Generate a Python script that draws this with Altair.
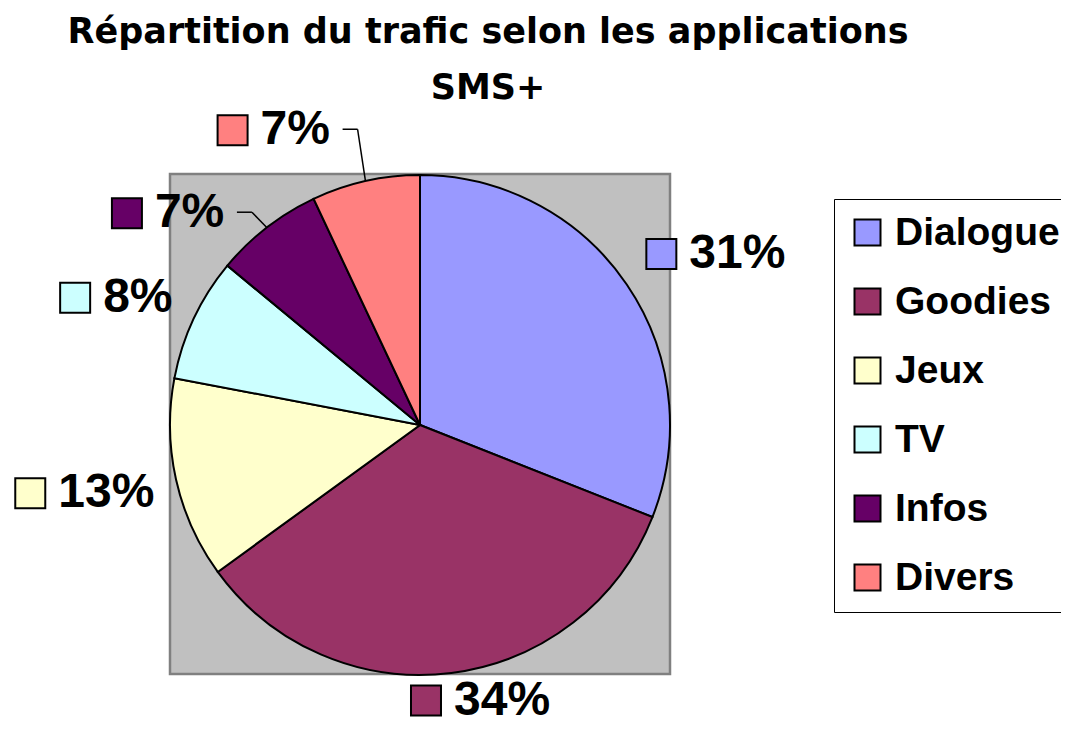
import altair as alt
import pandas as pd

# ---- data ----
categories = ["Dialogue", "Goodies", "Jeux", "TV", "Infos", "Divers"]
shares = [31, 34, 13, 8, 7, 7]
colors = ["#9999FF", "#993366", "#FFFFCC", "#CCFFFF", "#660066", "#FF8080"]
title_lines = ["Répartition du trafic selon les applications", "SMS+"]

# label placement around the pie (Excel "best fit"): angular shift (deg) and radius (px)
label_shift = [1.2, 1.4, 2.1, -3.7, -14.2, -16.7]
label_radius = [314, 277, 374, 347, 344, 338]

W, H = 1053, 721
CX, CY, R = 412, 417, 250

df = pd.DataFrame({
    "cat": categories,
    "share": shares,
    "idx": list(range(len(categories))),
    "shift": label_shift,
    "lr": label_radius,
})

base = alt.Chart(df)

color = alt.Color(
    "cat:N",
    scale=alt.Scale(domain=categories, range=colors),
    sort=categories,
    legend=alt.Legend(
        title=None, orient="none", legendX=826, legendY=191,
        symbolType="square", symbolSize=676, symbolStrokeColor="black",
        symbolStrokeWidth=2, symbolOpacity=1,
        labelFont="Liberation Sans", labelFontWeight="bold", labelFontSize=39,
        labelColor="black", labelOffset=8, labelLimit=400,
        rowPadding=29, padding=14, strokeColor="black", fillColor="white",
    ),
)

bg = alt.Chart(pd.DataFrame({"a": [0]})).mark_rect(
    fill="#C0C0C0", stroke="#808080", strokeWidth=2.5
).encode(x=alt.value(162), x2=alt.value(662), y=alt.value(166), y2=alt.value(666))

pie = base.mark_arc(radius=R, stroke="black", strokeWidth=2).encode(
    theta=alt.Theta("share:Q", stack=True),
    color=color,
    order=alt.Order("idx:Q"),
    x=alt.value(CX),
    y=alt.value(CY),
)

lab = base.transform_window(
    cum="sum(share)", sort=[alt.SortField("idx")], frame=[None, 0]
).transform_joinaggregate(
    total="sum(share)"
).transform_calculate(
    mid="2*PI*(datum.cum - datum.share/2)/datum.total",
    la="datum.mid + datum.shift*PI/180",
    lx=f"{CX} + datum.lr*sin(datum.la)",
    ly=f"{CY} - datum.lr*cos(datum.la)",
    ax=f"{CX} + {R}*sin(datum.mid)",
    ay=f"{CY} - {R}*cos(datum.mid)",
    pct="datum.share + '%'",
)

texts = lab.mark_text(
    align="left", baseline="middle", dx=6, font="Liberation Sans",
    fontWeight="bold", fontSize=48, color="black"
).encode(
    x=alt.X("lx:Q", scale=None), y=alt.Y("ly:Q", scale=None), text="pct:N"
)

squares = lab.mark_square(
    size=900, opacity=1, filled=True, stroke="black", strokeWidth=2, xOffset=-22
).encode(
    x=alt.X("lx:Q", scale=None), y=alt.Y("ly:Q", scale=None), color=color
)

lead = lab.transform_filter("abs(datum.shift) > 10").transform_calculate(
    hx1="datum.lx + 88", hx2="datum.lx + 103", hy="datum.ly - 1"
)
seg1 = lead.mark_rule(color="black", strokeWidth=1.5).encode(
    x=alt.X("hx1:Q", scale=None), x2="hx2:Q",
    y=alt.Y("hy:Q", scale=None), y2="hy:Q",
)
seg2 = lead.mark_rule(color="black", strokeWidth=1.5).encode(
    x=alt.X("hx2:Q", scale=None), x2="ax:Q",
    y=alt.Y("hy:Q", scale=None), y2="ay:Q",
)

title = alt.Chart(pd.DataFrame({"a": [0]})).mark_text(
    text=title_lines, align="center", baseline="alphabetic", lineHeight=56,
    font="DejaVu Sans", fontWeight="bold", fontSize=35, color="black"
).encode(x=alt.value(480), y=alt.value(35))

chart = alt.layer(bg, pie, seg1, seg2, squares, texts, title).properties(
    width=W, height=H,
    autosize=alt.AutoSizeParams(type="none"),
    padding=0,
    background="white",
).configure_view(stroke=None)

chart.save("out.html", embed_options={"renderer": "svg", "actions": False})
